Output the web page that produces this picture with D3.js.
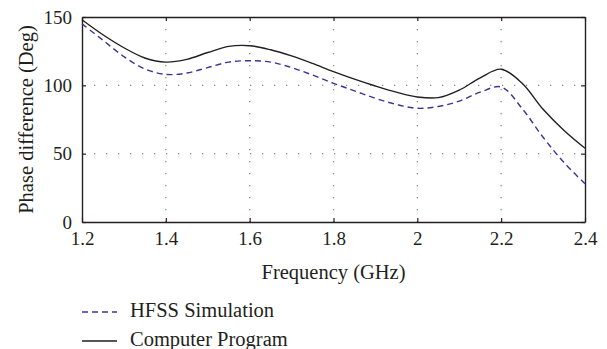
<!DOCTYPE html>
<html>
<head>
<meta charset="utf-8">
<script src="https://cdn.jsdelivr.net/npm/d3@7"></script>
<style>
  body { margin: 0; background: #fff; }
  text { font-family: "Liberation Serif", "Times New Roman", serif; fill: #231f20; }
</style>
</head>
<body>
<svg id="chart" width="607" height="349"></svg>
<script>
// frequency points (GHz)
const freq = [1.2, 1.25, 1.3, 1.35, 1.4, 1.45, 1.5, 1.55, 1.6, 1.65, 1.7, 1.75, 1.8,
              1.85, 1.9, 1.95, 2.0, 2.05, 2.1, 2.15, 2.2, 2.25, 2.3, 2.35, 2.4];
// HFSS simulation (dashed)
const hfss = [145, 133, 121, 112, 108, 109, 113, 117, 118, 117, 113, 107.5, 101.5,
              96, 90.5, 86, 83.2, 84.5, 88.5, 95, 98.8, 83, 62, 43.5, 28];
// computer program (solid)
const program = [148, 137, 127.5, 120, 117, 119, 124, 128.5, 129, 126, 121.5, 116, 110,
                 104.5, 99.5, 95, 91.5, 91, 96.5, 105.5, 111.8, 101.5, 82.5, 67, 54];
const xTickVals = [1.2, 1.4, 1.6, 1.8, 2.0, 2.2, 2.4];
const yTickVals = [0, 50, 100, 150];

const margin = {top: 17, right: 22, bottom: 127, left: 82},
    width = 607 - margin.left - margin.right,
    height = 349 - margin.top - margin.bottom;

const svg = d3.select("#chart");
const g = svg.append("g").attr("transform", `translate(${margin.left},${margin.top})`);

const x = d3.scaleLinear().domain([1.2, 2.4]).range([0, width]);
const y = d3.scaleLinear().domain([0, 150]).range([height, 0]);

// dotted grid
const grid = g.append("g")
    .attr("stroke", "#8a8a8a")
    .attr("stroke-width", 1.3)
    .attr("stroke-dasharray", "1.3,10.7");
grid.selectAll(".vgrid")
    .data(xTickVals.slice(1, -1))
    .join("line")
    .attr("x1", d => x(d)).attr("x2", d => x(d))
    .attr("y1", 0).attr("y2", height);
grid.selectAll(".hgrid")
    .data(yTickVals.slice(1, -1))
    .join("line")
    .attr("y1", d => y(d)).attr("y2", d => y(d))
    .attr("x1", 0).attr("x2", width);

// axes, ticks pointing inward
const fmt = d => d === 2 ? "2" : d3.format("")(d);
const gx = g.append("g").attr("transform", `translate(0,${height})`)
    .call(d3.axisBottom(x).tickValues(xTickVals).tickFormat(fmt).tickSizeInner(-4).tickSizeOuter(0).tickPadding(10));
const gxTop = g.append("g")
    .call(d3.axisTop(x).tickValues(xTickVals).tickFormat("").tickSizeInner(-4).tickSizeOuter(0));
const gy = g.append("g")
    .call(d3.axisLeft(y).tickValues(yTickVals).tickSizeInner(-4).tickSizeOuter(0).tickPadding(10));
const gyRight = g.append("g").attr("transform", `translate(${width},0)`)
    .call(d3.axisRight(y).tickValues(yTickVals).tickFormat("").tickSizeInner(-4).tickSizeOuter(0));

[gx, gxTop, gy, gyRight].forEach(a => {
    a.select(".domain").attr("stroke", "#231f20").attr("stroke-width", 1.4);
    a.selectAll(".tick line").attr("stroke", "#231f20").attr("stroke-width", 1.2);
    a.selectAll("text").attr("font-family", "Liberation Serif").attr("font-size", 19).attr("fill", "#231f20");
});
gx.selectAll(".tick text").attr("dy", "0.71em");

// lines
const line = vals => d3.line()
    .x((d, i) => x(freq[i]))
    .y(d => y(d))
    .curve(d3.curveCatmullRom.alpha(0.5))(vals);

g.append("path")
    .attr("d", line(hfss))
    .attr("fill", "none")
    .attr("stroke", "#3b3499")
    .attr("stroke-width", 1.4)
    .attr("stroke-dasharray", "6,4");
g.append("path")
    .attr("d", line(program))
    .attr("fill", "none")
    .attr("stroke", "#231f20")
    .attr("stroke-width", 1.4);

// axis titles
svg.append("text")
    .attr("x", margin.left + width / 2)
    .attr("y", 279)
    .attr("text-anchor", "middle")
    .attr("font-size", 20.5)
    .text("Frequency (GHz)");
svg.append("text")
    .attr("transform", `translate(33,${margin.top + height / 2}) rotate(-90)`)
    .attr("text-anchor", "middle")
    .attr("font-size", 20.5)
    .text("Phase difference (Deg)");

// legend
const legend = [
    {name: "HFSS Simulation", color: "#3b3499", dash: "6,4", y: 312},
    {name: "Computer Program", color: "#231f20", dash: null, y: 341}
];
const lg = svg.append("g");
lg.selectAll("line")
    .data(legend)
    .join("line")
    .attr("x1", 82).attr("x2", 117)
    .attr("y1", d => d.y).attr("y2", d => d.y)
    .attr("stroke", d => d.color)
    .attr("stroke-width", 1.4)
    .attr("stroke-dasharray", d => d.dash);
lg.selectAll("text")
    .data(legend)
    .join("text")
    .attr("x", 130)
    .attr("y", d => d.y + 5)
    .attr("font-size", 20.5)
    .text(d => d.name);
</script>
</body>
</html>
